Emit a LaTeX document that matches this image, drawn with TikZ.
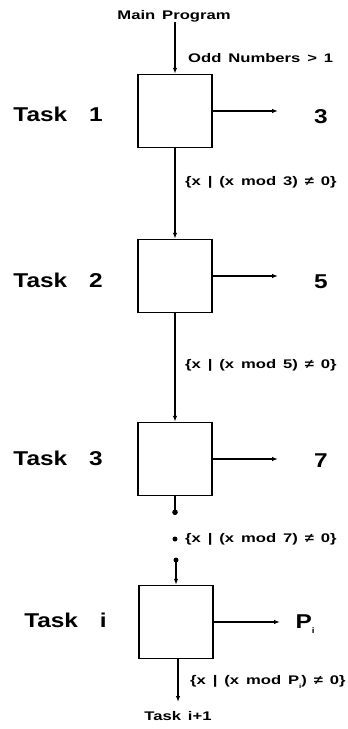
\documentclass[tikz,border=0pt]{standalone}
\usepackage{fontspec}
\setmainfont{Liberation Sans}
\newfontfamily\lblfont[WordSpace=1.5]{Liberation Sans}
\usetikzlibrary{arrows.meta}
\newcommand{\smalltxt}[1]{\scalebox{1.33}[1]{\lblfont\fontsize{12.5}{14}\selectfont\bfseries #1}}
\newcommand{\bigtxt}[1]{\scalebox{1.22}[1]{\fontsize{20}{24}\selectfont\bfseries #1}}
\tikzset{
  taskbox/.style={draw, line width=1.4pt, minimum width=74pt, minimum height=73pt, inner sep=0pt},
  flow/.style={line width=1.3pt, -{Latex[length=6pt,width=4.5pt]}},
  dotend/.style={line width=1.3pt, -{Circle[length=5.5pt]}},
  lbl/.style={inner sep=0pt, anchor=west},
  tasklbl/.style={inner sep=0pt, anchor=east},
  outlbl/.style={inner sep=0pt}
}
\begin{document}
\begin{tikzpicture}[x=1pt,y=-1pt]
\useasboundingbox (0,0) rectangle (348,729);
\node[outlbl] (main) at (174,16) {\smalltxt{Main Program}};
\node[lbl] (odd) at (188,58) {\smalltxt{Odd Numbers > 1}};

\node[taskbox] (b1) at (175,111) {};
\node[taskbox] (b2) at (175,276) {};
\node[taskbox] (b3) at (175,459) {};
\node[taskbox] (b4) at (176,622) {};

\node[tasklbl] (t1) at (103,114) {\bigtxt{Task\hspace{0.9em}1}};
\node[tasklbl] (t2) at (103,280) {\bigtxt{Task\hspace{0.9em}2}};
\node[tasklbl] (t3) at (103,458) {\bigtxt{Task\hspace{0.9em}3}};
\node[tasklbl] (t4) at (107,620) {\bigtxt{Task\hspace{0.9em}i}};

\coordinate (o1) at (278,111);
\coordinate (o2) at (278,276);
\coordinate (o3) at (278,459);
\coordinate (o4) at (280,622);
\node[outlbl] (n1) at (321,117) {\bigtxt{3}};
\node[outlbl] (n2) at (321,282) {\bigtxt{5}};
\node[outlbl] (n3) at (321,461) {\bigtxt{7}};
\node[outlbl] (n4) at (305,624) {\bigtxt{P\raisebox{-0.25em}{\fontsize{8}{8}\selectfont i}}};

\draw[flow] (main.south -| b1.north) -- (b1.north);
\draw[flow] (b1.south) -- (b2.north);
\draw[flow] (b2.south) -- (b3.north);
\draw[flow] (b1.east) -- (o1);
\draw[flow] (b2.east) -- (o2);
\draw[flow] (b3.east) -- (o3);
\draw[flow] (b4.east) -- (o4);

\node[lbl] (l1) at (185,182) {\smalltxt{\{x | (x mod 3) ≠ 0\}}};
\node[lbl] (l2) at (185,365) {\smalltxt{\{x | (x mod 5) ≠ 0\}}};
\node[lbl] (l3) at (185,539) {\smalltxt{\{x | (x mod 7) ≠ 0\}}};
\node[lbl] (l4) at (190,682) {\smalltxt{\{x | (x mod P\raisebox{-0.3em}{\fontsize{6}{6}\selectfont i}) ≠ 0\}}};

\coordinate (d1) at (175,515);
\fill (175,539) circle (2.5pt) coordinate (d2);
\coordinate (d3) at (176,560);
\draw[dotend] (b3.south) -- (d1);
\fill (d3) circle (2.5pt);
\draw[flow] (d3) -- (d3 |- b4.north);

\coordinate (bot) at (178,702);
\draw[flow] (b4.south -| bot) -- (bot);
\node[outlbl] (next) at (178,716) {\smalltxt{Task i+1}};
\end{tikzpicture}
\end{document}
